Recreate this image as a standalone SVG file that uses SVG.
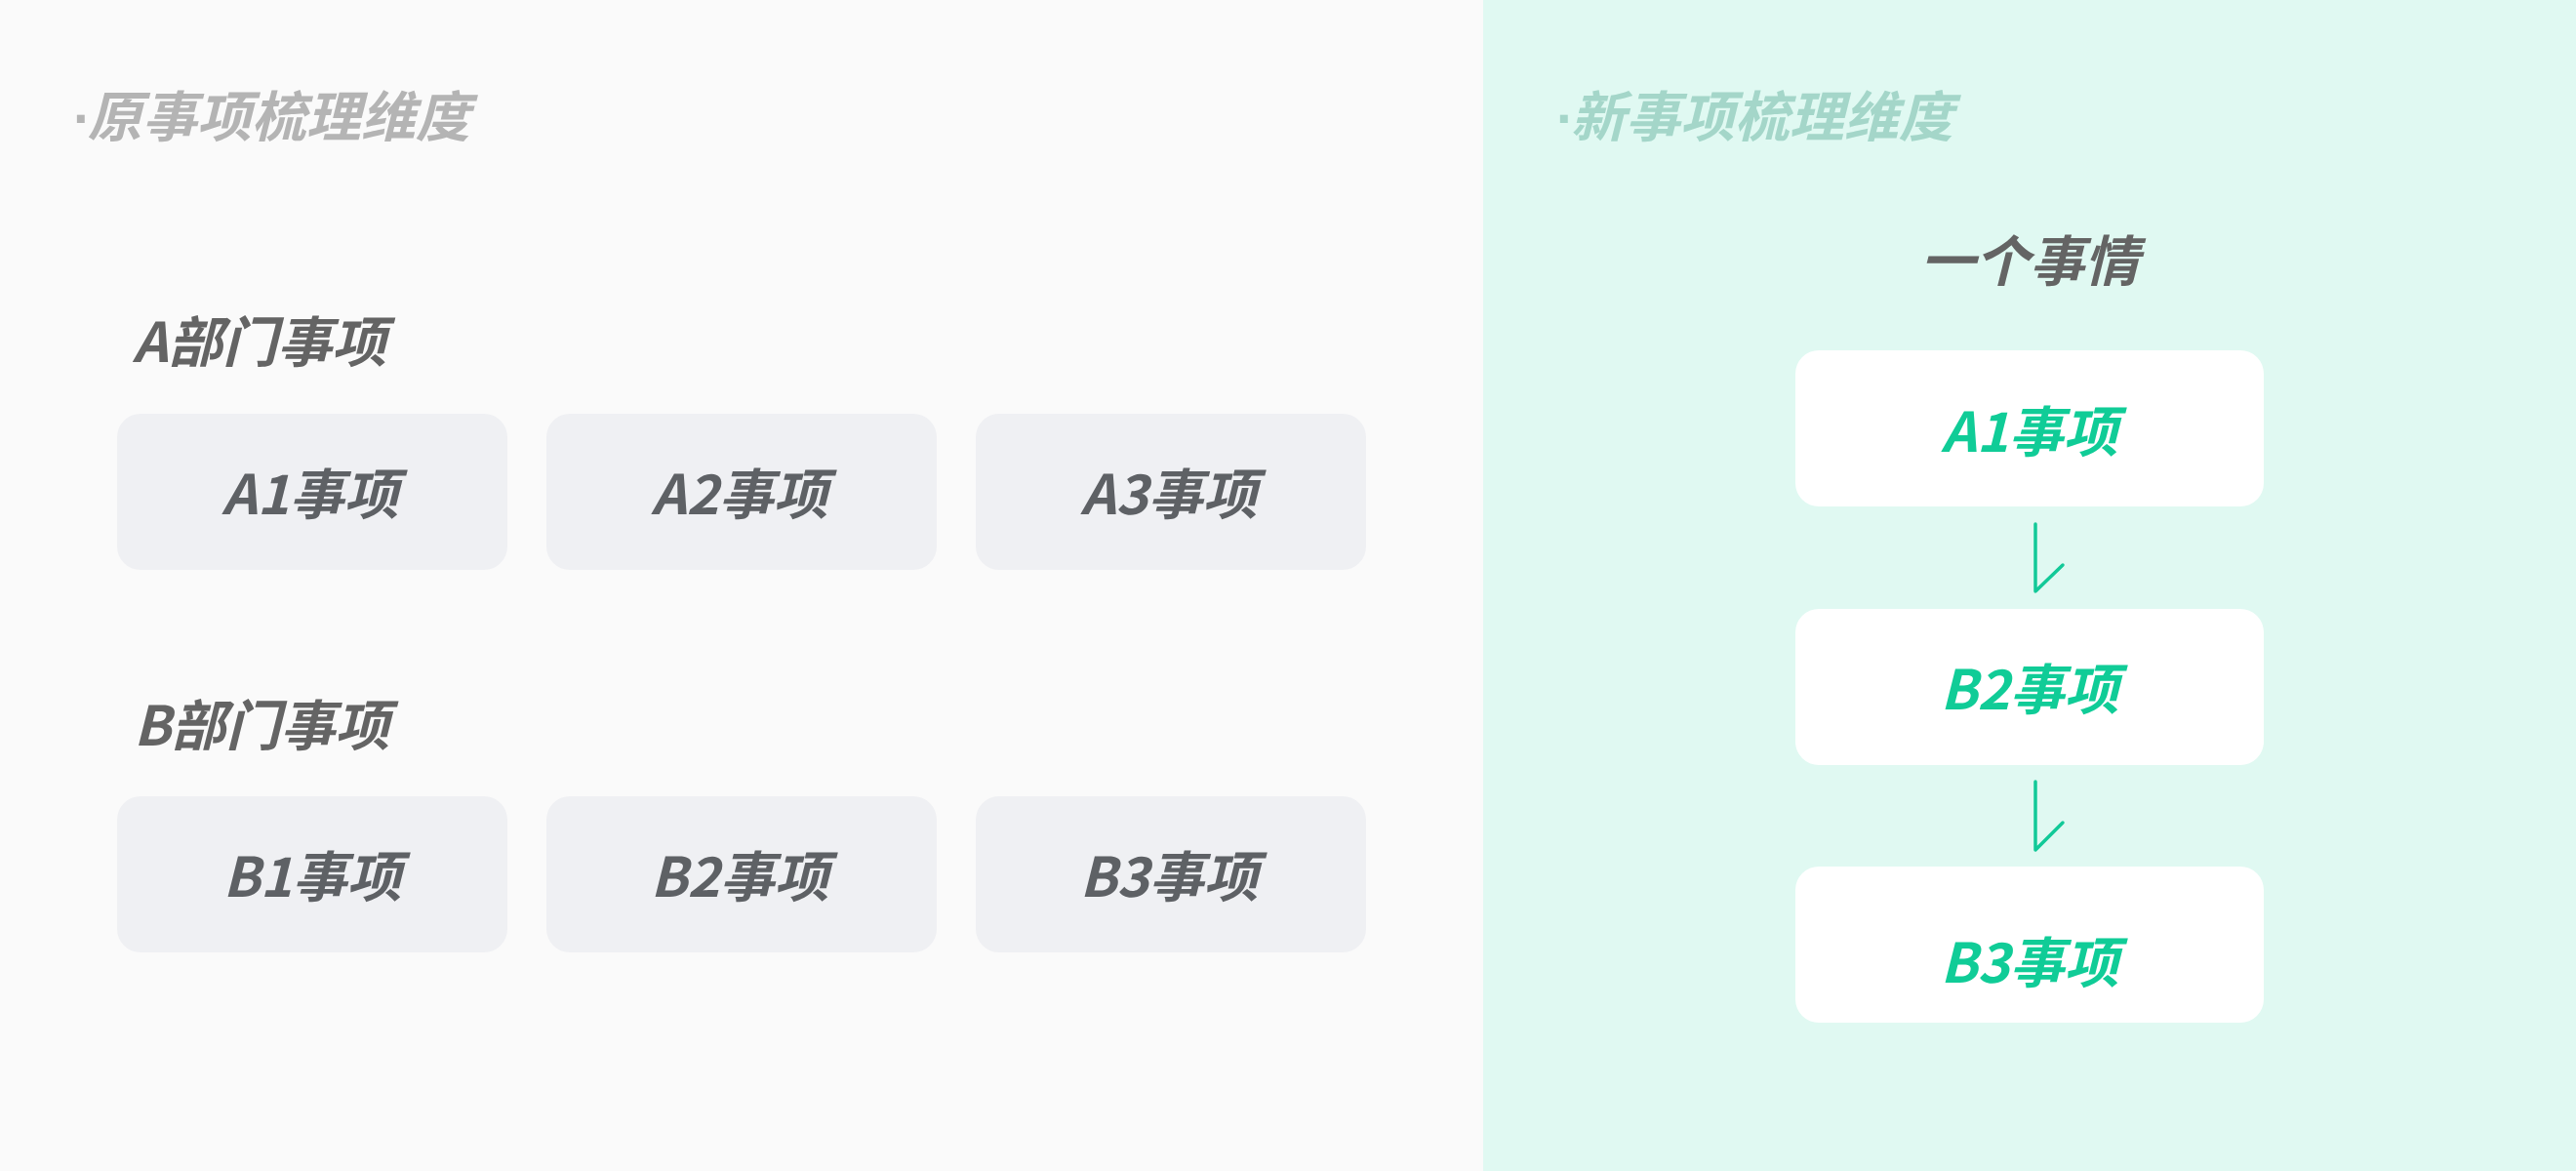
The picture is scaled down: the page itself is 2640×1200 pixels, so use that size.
<svg xmlns="http://www.w3.org/2000/svg" width="2640" height="1200" viewBox="0 0 2640 1200">
  <style>
    .t { font-family: "Noto Sans CJK SC", "Noto Sans", sans-serif; font-weight: 700; font-style: italic; font-size: 56px; }
    .dot { font-family: "Liberation Sans", sans-serif; font-style: normal; }
    .title-l { fill: #B4B4B4; }
    .title-r { fill: #A4D6C9; }
    .label { fill: #646464; }
    .box-l { fill: #EFF0F3; }
    .box-r { fill: #FFFFFF; }
    .txt-l { fill: #5E6165; text-anchor: middle; }
    .txt-r { fill: #10CC97; text-anchor: middle; }
    .conn { fill: none; stroke: #12C998; stroke-width: 3.5; stroke-linecap: round; stroke-linejoin: round; }
  </style>
  <rect x="0" y="0" width="1520" height="1200" fill="#FAFAFA"/>
  <rect x="1520" y="0" width="1120" height="1200" fill="#E0F9F2"/>

  <text class="t title-l" x="75" y="140"><tspan class="dot">·</tspan><tspan dx="-4">原事项梳理维度</tspan></text>
  <text class="t title-r" x="1595" y="140"><tspan class="dot">·</tspan><tspan dx="-4">新事项梳理维度</tspan></text>

  <text class="t label" x="136" y="371">A部门事项</text>
  <text class="t label" x="137" y="764">B部门事项</text>
  <text class="t label" x="2080" y="288" text-anchor="middle">一个事情</text>

  <g id="A1"><rect class="box-l" x="120" y="424" width="400" height="160" rx="24"/><text class="t txt-l" x="318" y="527">A1事项</text></g>
  <g id="A2"><rect class="box-l" x="560" y="424" width="400" height="160" rx="24"/><text class="t txt-l" x="758" y="527">A2事项</text></g>
  <g id="A3"><rect class="box-l" x="1000" y="424" width="400" height="160" rx="24"/><text class="t txt-l" x="1198" y="527">A3事项</text></g>
  <g id="B1"><rect class="box-l" x="120" y="816" width="400" height="160" rx="24"/><text class="t txt-l" x="320" y="919">B1事项</text></g>
  <g id="B2"><rect class="box-l" x="560" y="816" width="400" height="160" rx="24"/><text class="t txt-l" x="758" y="919">B2事项</text></g>
  <g id="B3"><rect class="box-l" x="1000" y="816" width="400" height="160" rx="24"/><text class="t txt-l" x="1198" y="919">B3事项</text></g>

  <g id="N-A1"><rect class="box-r" x="1840" y="359" width="480" height="160" rx="24"/><text class="t txt-r" x="2080" y="463">A1事项</text></g>
  <g id="N-B2"><rect class="box-r" x="1840" y="624" width="480" height="160" rx="24"/><text class="t txt-r" x="2080" y="727">B2事项</text></g>
  <g id="N-B3"><rect class="box-r" x="1840" y="888" width="480" height="160" rx="24"/><text class="t txt-r" x="2080" y="1007">B3事项</text></g>

  <g id="connectors">
    <path class="conn" d="M2086 537 L2086 606 L2114 579"/>
    <path class="conn" d="M2086 801 L2086 871 L2114 843"/>
  </g>
</svg>
